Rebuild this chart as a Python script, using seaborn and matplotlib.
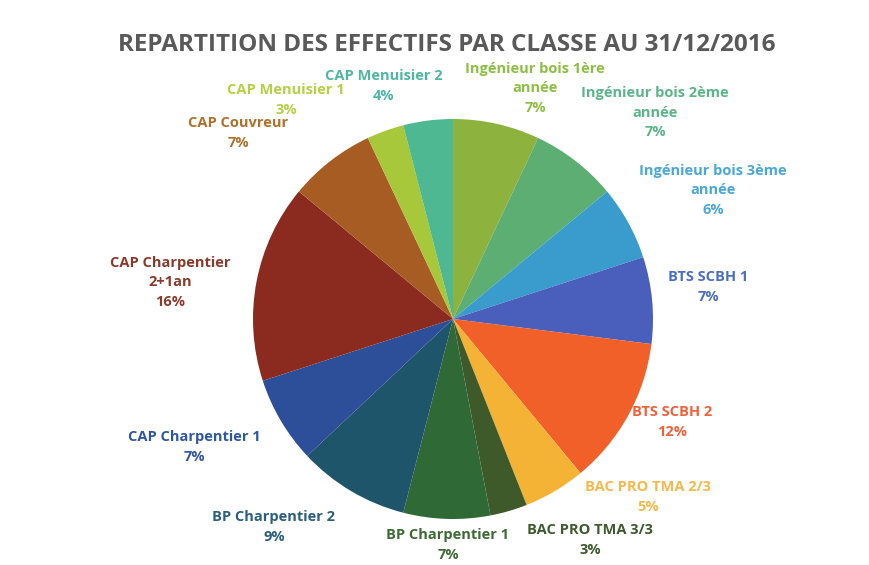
import matplotlib
matplotlib.use("Agg")
import matplotlib.pyplot as plt
import seaborn as sns

sns.set_theme(style="white")
plt.rcParams["font.family"] = ["Open Sans", "DejaVu Sans"]

# classes, clockwise from 12 o'clock
classes = [
    "Ingénieur bois 1ère\nannée",
    "Ingénieur bois 2ème\nannée",
    "Ingénieur bois 3ème\nannée",
    "BTS SCBH 1",
    "BTS SCBH 2",
    "BAC PRO TMA 2/3",
    "BAC PRO TMA 3/3",
    "BP Charpentier 1",
    "BP Charpentier 2",
    "CAP Charpentier 1",
    "CAP Charpentier\n2+1an",
    "CAP Couvreur",
    "CAP Menuisier 1",
    "CAP Menuisier 2",
]
shares = [7, 7, 6, 7, 12, 5, 3, 7, 9, 7, 16, 7, 3, 4]

slice_colors = [
    "#8db33e", "#5cae72", "#3a9ccd", "#4a5fbc", "#f2602a", "#f5b335", "#3f5a2a",
    "#2f6a36", "#1f556a", "#2d4e98", "#8b2a1e", "#a65c22", "#a8c83c", "#4db891",
]
label_colors = [
    "#8cbf43", "#5cb58a", "#4aa8d8", "#4a6fc0", "#f0603a", "#f5b84a", "#3e5a2e",
    "#3d6a35", "#2a5f80", "#2f56a0", "#8a3a2a", "#b0702a", "#b5d045", "#4db8a0",
]
# label centres, in pie-radius units from the centre
label_pos = [
    (0.41, 1.155), (1.01, 1.03), (1.30, 0.645), (1.275, 0.16), (1.095, -0.515),
    (0.975, -0.89), (0.685, -1.105), (-0.025, -1.13), (-0.895, -1.04),
    (-1.295, -0.64), (-1.415, 0.185), (-1.075, 0.93), (-0.835, 1.095),
    (-0.345, 1.165),
]

fig = plt.figure(figsize=(8.69, 5.65), dpi=100)
ax = fig.add_axes([0, 0, 1, 1])
ax.pie(shares, colors=slice_colors, startangle=90, counterclock=False,
       radius=1.0, wedgeprops=dict(linewidth=0))
ax.set_xlim(-2.265, 2.08)
ax.set_ylim(-1.23, 1.595)
ax.set_aspect("auto")
ax.axis("off")

for name, val, col, (x, y) in zip(classes, shares, label_colors, label_pos):
    ax.text(x, y, f"{name}\n{val}%", ha="center", va="center", color=col,
            fontsize=10.5, fontweight="bold", linespacing=1.5)

fig.text(0.514, 0.92, "REPARTITION DES EFFECTIFS PAR CLASSE AU 31/12/2016",
         ha="center", va="center", fontsize=17.5, fontweight="bold", color="#595959")

fig.savefig("out.png", dpi=100)
